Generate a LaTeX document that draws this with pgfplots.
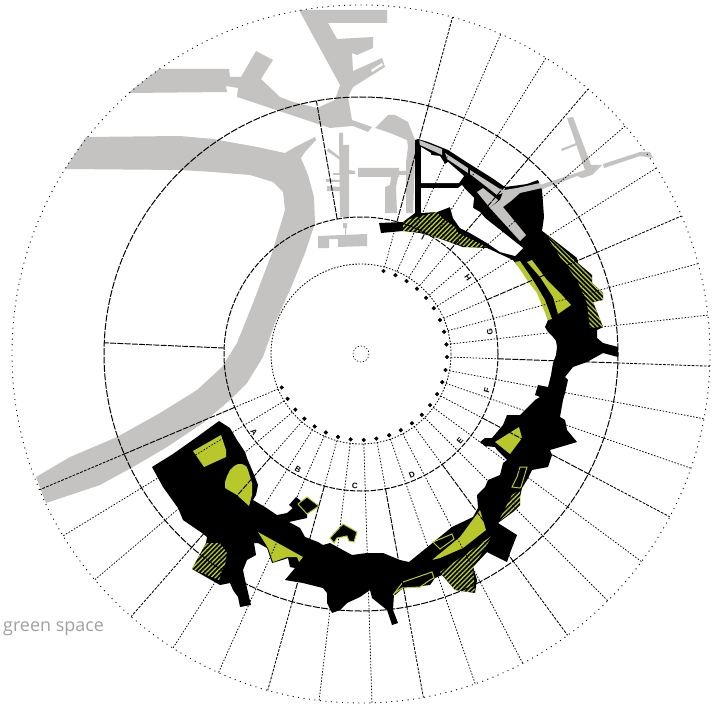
\documentclass[border=0pt]{standalone}
\usepackage{fontspec}
\setmainfont{Open Sans}
\newfontfamily\lab{Liberation Sans}
\usepackage{pgfplots}
\pgfplotsset{compat=1.18}
\usepgfplotslibrary{polar}
\usetikzlibrary{patterns.meta}
\definecolor{grayland}{HTML}{C4C3C1}
\definecolor{park}{HTML}{B8C82A}
\definecolor{capt}{HTML}{A0A0A0}
\tikzset{lbl/.style={font=\lab\bfseries\fontsize{8}{8}\selectfont, inner sep=0pt}}
\begin{document}
\begin{tikzpicture}
\begin{axis}[
  scale only axis, width=717bp, height=709bp,
  xmin=-361, xmax=356, ymin=-354, ymax=355, y dir=reverse,
  hide axis, clip=false,
  px/.style={x filter/.expression={x-361}, y filter/.expression={y-354}},
  land/.style={px, fill=grayland, draw=none},
  blk/.style={px, fill=black, draw=none},
  grn/.style={px, fill=park, draw=none},
  wht/.style={px, fill=white, draw=none},
  outl/.style={px, fill=black, draw=park, line width=1bp},
  hatchR/.style={px, draw=none, pattern={Lines[angle=45,distance=3.3bp,line width=1.3bp]}, pattern color=park},
  hatchL/.style={px, draw=none, pattern={Lines[angle=-45,distance=3.3bp,line width=1.3bp]}, pattern color=park},
  dotsp/.style={data cs=polar, black, line width=0.75bp, dash pattern=on 1.5bp off 1.6bp},
  heavy/.style={data cs=polar, black, line width=0.95bp, dash pattern=on 6bp off 1.2bp},
  heavyo/.style={data cs=polar, black, line width=0.85bp, dash pattern=on 2.8bp off 1.3bp},
]
\path (axis cs:-361,-354) rectangle (axis cs:356,355);

% --- grey land / docks ---
\addplot[land] coordinates {(86,137)(180,136)(213,139)(257,147)(285,153)(295,147)(315,137)(316,140)(305,152)(301,158)(308,175)(314,197)(315,223)(305,253)(290,290)(275,323)(263,357)(247,383)(230,400)(203,423)(167,447)(133,467)(100,485)(46,503)(36,477)(70,457)(117,437)(160,413)(197,390)(222,367)(237,343)(253,303)(272,253)(285,210)(283,192)(273,182)(250,175)(213,172)(180,170)(65,169)} --cycle;
\addplot[land] coordinates {(128,93)(159,69)(229,69)(230,77)(241,77)(256,51)(273,60)(261,79)(280,97)(293,102)(317,108)(335,100)(340,85)(299,10)(387,10)(387,23)(328,23)(337,39)(373,37)(373,48)(357,55)(352,53)(353,71)(382,58)(385,67)(353,87)(348,97)(352,120)(372,127)(368,132)(353,126)(340,127)(330,128)(300,118)(267,107)(237,97)(238,88)(226,86)(227,92)} --cycle;
\addplot[wht] coordinates {(371,70)(382,63)(383,65)(372,72)} --cycle;
\addplot[land] coordinates {(375,128)(388,115)(395,115)(408,122)(415,140)(415,160)(413,213)(406,213)(406,162)(408,147)(407,140)(390,133)} --cycle;
\addplot[land] coordinates {(358,168)(399,168)(399,171)(406,171)(406,175)(399,175)(399,177)(398,177)(396,187)(397,213)(385,213)(385,187)(390,185)(391,177)(358,177)} --cycle;
\addplot[land] coordinates {(339,133)(343,133)(343,145)(349,145)(349,170)(355,171)(355,174)(349,174)(349,217)(340,217)} --cycle;
\addplot[land] coordinates {(328,148)(340,157)(340,160)(327,151)} --cycle;
\addplot[land] coordinates {(333,173)(340,173)(340,175)(333,175)} --cycle;
\addplot[land] coordinates {(326,179)(340,180)(340,182)(326,182)} --cycle;
\addplot[land] coordinates {(327,186)(340,187)(340,191)(327,191)} --cycle;
\addplot[land] coordinates {(343,223)(347,223)(347,228)(346,228)(346,235)(345,235)(345,228)(343,228)} --cycle;
\addplot[land] coordinates {(318,236)(367,234)(367,246)(338,247)(338,239)(329,239)(329,248)(318,248)} --cycle;
\addplot[land] coordinates {(567,118)(573,117)(591,165)(602,165)(592,175)(582,178)(577,176)(540,190)(540,185)(585,170)} --cycle;
\addplot[land] coordinates {(561,149)(576,143)(577,145)(562,151)} --cycle;
\addplot[land] coordinates {(603,164)(640,152)(650,152)(653,158)(640,156)(604,168)} --cycle;

% --- black built area ---
\addplot[blk] coordinates {(152,467)(173,454)(197,437)(219,421)(230,428)(237,440)(245,452)(247,458)(255,477)(258,485)(256,495)(253,500)(265,507)(277,515)(287,513)(293,508)(289,505)(296,497)(300,500)(307,514)(307,518)(289,522)(300,528)(305,537)(318,542)(323,545)(330,543)(352,555)(367,553)(383,553)(400,560)(409,562)(430,545)(452,527)(473,517)(478,508)(477,495)(485,487)(488,480)(500,475)(503,463)(507,460)(497,450)(495,447)(485,446)(480,442)(485,438)(492,438)(503,425)(507,415)(520,415)(535,400)(540,397)(535,395)(538,385)(548,387)(551,375)(553,363)(556,355)(557,347)(556,341)(553,337)(548,332)(545,327)(548,320)(540,295)(527,277)(513,260)(500,254)(487,248)(463,247)(438,238)(420,233)(403,231)(381,233)(379,223)(403,222)(415,213)(415,140)(418,139)(428,142)(448,150)(468,163)(492,178)(505,187)(520,185)(527,184)(538,180)(542,190)(543,203)(544,217)(542,231)(545,233)(577,258)(578,263)(592,275)(592,283)(603,293)(603,300)(593,302)(603,327)(597,330)(597,338)(603,343)(618,347)(618,357)(603,353)(587,362)(573,367)(565,377)(568,380)(565,393)(563,400)(560,417)(565,420)(567,430)(577,442)(567,445)(550,450)(552,455)(548,467)(532,470)(527,480)(522,488)(520,497)(520,505)(513,512)(498,523)(517,535)(510,553)(507,562)(487,552)(473,567)(477,580)(475,593)(455,590)(442,575)(435,578)(430,585)(403,588)(395,595)(394,594)(393,610)(398,623)(392,625)(387,610)(372,598)(370,590)(360,597)(347,603)(340,610)(332,613)(327,603)(327,593)(323,588)(303,583)(285,580)(295,568)(290,567)(288,558)(282,560)(272,563)(267,548)(258,543)(254,543)(256,555)(247,560)(243,570)(245,580)(247,588)(251,605)(240,607)(238,597)(233,590)(230,583)(220,585)(192,569)(206,543)(207,537)(202,533)(183,520)(178,508)(163,487)} --cycle;

% --- frame holes ---
\addplot[wht] coordinates {(421,147)(431,153)(431,155)(440,156)(445,164)(448,162)(464,176)(459,183)(421,183)} --cycle;
\addplot[wht] coordinates {(421,188)(458,188)(462,185)(466,190)(474,198)(473,208)(480,212)(485,218)(523,248)(515,256)(500,252)(487,243)(470,233)(460,228)(453,218)(450,207)(437,212)(421,213)} --cycle;

% --- grey roads over the frame ---
\addplot[land] coordinates {(419,140)(442,149)(442,155)(420,145)} --cycle;
\addplot[land] coordinates {(445,153)(468,168)(468,173)(447,159)} --cycle;
\addplot[land] coordinates {(470,170)(500,189)(505,188)(503,193)(497,195)(470,174)} --cycle;
\addplot[land] coordinates {(477,192)(483,188)(498,200)(490,208)} --cycle;
\addplot[land] coordinates {(490,208)(500,200)(504,190)(517,188)(540,183)(542,188)(520,193)(511,201)(503,207)(526,235)(520,241)} --cycle;

% --- green spaces ---
\addplot[grn] coordinates {(193,451)(221,435)(226,450)(226,457)(204,467)} --cycle;
\addplot[grn] coordinates {(225,488)(225,482)(227,476)(230,470)(234,466)(238,464)(242,464)(246,466)(248,470)(252,483)(252,495)(249,506)(237,495)} --cycle;
\addplot[grn] coordinates {(258,532)(303,557)(299,562)(297,557)(287,557)(273,562)(268,548)} --cycle;
\addplot[grn] coordinates {(432,560)(460,537)(480,510)(486,530)(463,548)(440,558)} --cycle;
\addplot[grn] coordinates {(495,442)(519,427)(522,438)(510,454)} --cycle;
\addplot[grn] coordinates {(515,262)(520,261)(533,280)(545,300)(552,319)(548,320)(537,293)(527,280)} --cycle;
\addplot[grn] coordinates {(527,262)(532,260)(547,280)(562,295)(571,305)(558,314)(553,297)(540,277)} --cycle;

% --- outlined parcels ---
\addplot[outl] coordinates {(298,504)(307,497)(319,506)(307,514)} --cycle;
\addplot[outl] coordinates {(330,538)(343,524)(357,532)(354,542)(349,541)(347,536)(337,538)(334,543)} --cycle;
\addplot[outl] coordinates {(393,595)(403,582)(432,572)(434,578)(430,580)(420,587)(402,588)(395,593)} --cycle;
\addplot[outl] coordinates {(433,542)(452,534)(454,539)(440,549)} --cycle;
\addplot[outl] coordinates {(520,467)(527,467)(521,487)(520,488)(512,487)(517,477)} --cycle;

% --- hatched parcels ---
\addplot[hatchR] coordinates {(192,569)(206,543)(220,543)(227,553)(225,565)(219,580)} --cycle;
\addplot[hatchR] coordinates {(440,572)(493,535)(473,567)(475,593)(455,590)} --cycle;
\addplot[hatchR] coordinates {(498,522)(512,495)(520,490)(520,505)(513,511)} --cycle;
\addplot[hatchR] coordinates {(403,222)(413,218)(437,212)(442,218)(455,227)(458,233)(487,247)(470,248)(438,238)(420,232)(403,231)} --cycle;
\addplot[hatchL] coordinates {(545,233)(577,263)(592,275)(592,283)(603,293)(603,300)(593,302)(603,327)(590,328)(587,303)(577,280)(560,257)} --cycle;

% --- rings ---
\draw[black, line width=0.6bp, dash pattern=on 1.3bp off 1.8bp] (axis cs:0,0) circle[radius=8];
\draw[black, line width=0.85bp, dash pattern=on 1.5bp off 1.6bp] (axis cs:0,0) circle[radius=90];
\draw[black, line width=1bp, dash pattern=on 5.5bp off 1.4bp] (axis cs:0,0) circle[radius=137];
\draw[black, line width=1bp, dash pattern=on 7bp off 1.4bp] (axis cs:0,0) circle[radius=257];
\draw[black, line width=0.9bp, dash pattern=on 1bp off 4.5bp] (axis cs:0,0) circle[radius=349];

% --- dotted spokes ---
\addplot[dotsp] coordinates {(148.6,90)(148.6,349)};
\addplot[dotsp] coordinates {(139.7,90)(139.7,349)};
\addplot[dotsp] coordinates {(122.6,90)(122.6,349)};
\addplot[dotsp] coordinates {(114.1,90)(114.1,349)};
\addplot[dotsp] coordinates {(96.9,90)(96.9,349)};
\addplot[dotsp] coordinates {(88.2,90)(88.2,349)};
\addplot[dotsp] coordinates {(70.9,90)(70.9,349)};
\addplot[dotsp] coordinates {(62.4,90)(62.4,349)};
\addplot[dotsp] coordinates {(45,90)(45,349)};
\addplot[dotsp] coordinates {(36.5,90)(36.5,349)};
\addplot[dotsp] coordinates {(19.1,90)(19.1,349)};
\addplot[dotsp] coordinates {(10.7,90)(10.7,349)};
\addplot[dotsp] coordinates {(-6.4,90)(-6.4,349)};
\addplot[dotsp] coordinates {(-15,90)(-15,349)};
\addplot[dotsp] coordinates {(-32.2,90)(-32.2,349)};
\addplot[dotsp] coordinates {(-40.8,90)(-40.8,349)};
\addplot[dotsp] coordinates {(-58,90)(-58,349)};
\addplot[dotsp] coordinates {(-66.4,90)(-66.4,349)};

% --- heavier spokes every third position ---
\addplot[dotsp] coordinates {(157.1,90)(157.1,137)};
\addplot[dotsp] coordinates {(131.2,90)(131.2,137)};
\addplot[dotsp] coordinates {(105.5,90)(105.5,137)};
\addplot[dotsp] coordinates {(79.7,90)(79.7,137)};
\addplot[dotsp] coordinates {(53.7,90)(53.7,137)};
\addplot[dotsp] coordinates {(27.8,90)(27.8,137)};
\addplot[dotsp] coordinates {(2,90)(2,137)};
\addplot[dotsp] coordinates {(-23.3,90)(-23.3,137)};
\addplot[dotsp] coordinates {(-49.4,90)(-49.4,137)};
\addplot[dotsp] coordinates {(-74.8,90)(-74.8,137)};
\addplot[heavy] coordinates {(157.1,137)(157.1,257)};
\addplot[heavy] coordinates {(131.2,137)(131.2,257)};
\addplot[heavy] coordinates {(105.5,137)(105.5,257)};
\addplot[heavy] coordinates {(79.7,137)(79.7,257)};
\addplot[heavy] coordinates {(53.7,137)(53.7,257)};
\addplot[heavy] coordinates {(27.8,137)(27.8,257)};
\addplot[heavy] coordinates {(2,137)(2,257)};
\addplot[heavy] coordinates {(-23.3,137)(-23.3,257)};
\addplot[heavy] coordinates {(-49.4,137)(-49.4,257)};
\addplot[heavy] coordinates {(-74.8,137)(-74.8,257)};
\addplot[heavy] coordinates {(182.5,137)(182.5,257)};
\addplot[heavy] coordinates {(-100,137)(-100,257)};
\addplot[heavyo] coordinates {(157.1,257)(157.1,349)};
\addplot[heavyo] coordinates {(131.2,257)(131.2,349)};
\addplot[heavyo] coordinates {(105.5,257)(105.5,349)};
\addplot[heavyo] coordinates {(79.7,257)(79.7,349)};
\addplot[heavyo] coordinates {(53.7,257)(53.7,349)};
\addplot[heavyo] coordinates {(27.8,257)(27.8,349)};
\addplot[heavyo] coordinates {(2,257)(2,349)};
\addplot[heavyo] coordinates {(-23.3,257)(-23.3,349)};
\addplot[heavyo] coordinates {(-49.4,257)(-49.4,349)};
\addplot[heavyo] coordinates {(-74.8,257)(-74.8,349)};

% --- small tick blobs on the inner ring ---
\addplot[only marks, data cs=polar, mark=*, mark size=1.9bp, mark options={fill=black, draw=black}] coordinates {
(157.1,86)(148.6,86)(139.7,86)(131.2,86)(122.6,86)(114.1,86)(105.5,86)(96.9,86)(88.2,86)(79.7,86)(70.9,86)(62.4,86)(53.7,86)(45,86)(36.5,86)(27.8,86)(19.1,86)(10.7,86)(2,86)(-6.4,86)(-15,86)(-23.3,86)(-32.2,86)(-40.8,86)(-49.4,86)(-58,86)(-66.4,86)(-74.8,86)};

% --- sector letters ---
\node[lbl, rotate=-54] at (axis cs:-107,78) {A};
\node[lbl, rotate=-29] at (axis cs:-63,115) {B};
\node[lbl, rotate=-3] at (axis cs:-6,132) {C};
\node[lbl, rotate=23] at (axis cs:51,121) {D};
\node[lbl, rotate=49] at (axis cs:99,87) {E};
\node[lbl, rotate=74] at (axis cs:126,36) {F};
\node[lbl, rotate=100] at (axis cs:129,-22) {G};
\node[lbl, rotate=125] at (axis cs:107,-76) {H};
\node[lbl, rotate=152] at (axis cs:62,-117) {I};

\node[anchor=west, inner sep=0pt, text=capt, font=\fontsize{18}{20}\selectfont] at (axis cs:-358,275) {green space};
\end{axis}
\end{tikzpicture}
\end{document}
